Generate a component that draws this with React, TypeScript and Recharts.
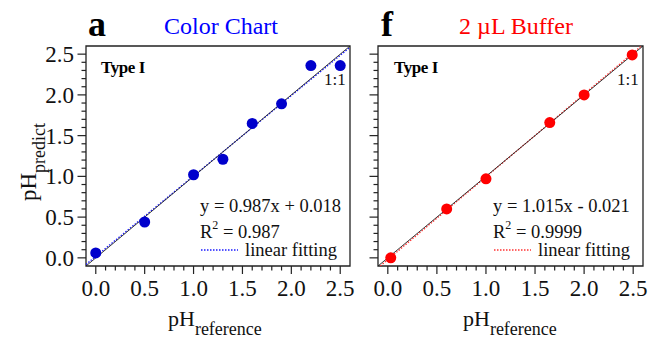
import React from 'react';
import { ScatterChart, Scatter, XAxis, YAxis, ReferenceLine, ReferenceArea } from 'recharts';

// panel a: colour chart
const colorRef = [0.0, 0.5, 1.0, 1.3, 1.6, 1.9, 2.2, 2.5];
const colorPred = [0.06, 0.44, 1.02, 1.21, 1.65, 1.89, 2.36, 2.36];
const colorFit = { slope: 0.987, intercept: 0.018 };

// panel f: 2 uL buffer
const bufferRef = [0.03, 0.6, 1.0, 1.65, 2.0, 2.49];
const bufferPred = [0.0, 0.6, 0.97, 1.66, 2.0, 2.49];
const bufferFit = { slope: 1.015, intercept: -0.021 };

const axisDomain = [-0.1, 2.6];
const majorTicks = [0, 0.5, 1, 1.5, 2, 2.5];
const minorStep = 0.1;

const FONT = "'Liberation Serif', 'Times New Roman', serif";

const allTicks: number[] = [];
for (let i = 0; i <= 25; i++) allTicks.push(Math.round(i * minorStep * 10) / 10);

const isMajor = (v: number) => majorTicks.some((m) => Math.abs(m - v) < 1e-6);

const XTick = (props: any) => {
  const { x, y, payload } = props;
  const major = isMajor(payload.value);
  return (
    <g>
      <line x1={x} y1={y} x2={x} y2={y + (major ? 8 : 4.5)} stroke="#222" strokeWidth={1.2} />
      {major && (
        <text x={x} y={y + 30} textAnchor="middle" fontSize={23} fontFamily={FONT} fill="#111">
          {payload.value.toFixed(1)}
        </text>
      )}
    </g>
  );
};

const YTick = (props: any) => {
  const { x, y, payload, showLabel } = props;
  const major = isMajor(payload.value);
  return (
    <g>
      <line x1={x} y1={y} x2={x - (major ? 8.5 : 4.5)} y2={y} stroke="#222" strokeWidth={1.2} />
      {major && showLabel && (
        <text x={x - 12} y={y + 8} textAnchor="end" fontSize={23} fontFamily={FONT} fill="#111">
          {payload.value.toFixed(1)}
        </text>
      )}
    </g>
  );
};

const Dot = (color: string) => (props: any) =>
  <circle cx={props.cx} cy={props.cy} r={5.5} fill={color} />;

type PanelProps = {
  xs: number[];
  ys: number[];
  fit: { slope: number; intercept: number };
  color: string;
  fitColor: string;
  left: number;
  width: number;
  marginRight: number;
  showYLabels: boolean;
};

const Panel = ({ xs, ys, fit, color, fitColor, left, width, marginRight, showYLabels }: PanelProps) => {
  const data = xs.map((x, i) => ({ x, y: ys[i] }));
  const [x0, x1] = axisDomain;
  return (
    <div style={{ position: 'absolute', left, top: 0 }}>
      <ScatterChart width={width} height={340} margin={{ top: 46, right: marginRight, bottom: 0, left: 0 }}>
        <XAxis
          type="number"
          dataKey="x"
          domain={axisDomain}
          ticks={allTicks}
          interval={0}
          height={74}
          axisLine={false}
          tickLine={false}
          tickSize={0}
          tickMargin={0}
          tick={(p: any) => <XTick {...p} />}
        />
        <YAxis
          type="number"
          dataKey="y"
          domain={axisDomain}
          ticks={allTicks}
          interval={0}
          width={86}
          axisLine={false}
          tickLine={false}
          tickSize={0}
          tickMargin={0}
          tick={(p: any) => <YTick {...p} showLabel={showYLabels} />}
        />
        <ReferenceArea x1={x0} x2={x1} y1={x0} y2={x1} fill="none" stroke="#222" strokeWidth={1.3} ifOverflow="visible" />
        {/* linear fit, drawn under the 1:1 line */}
        <ReferenceLine
          segment={[
            { x: x0, y: fit.slope * x0 + fit.intercept },
            { x: x1, y: fit.slope * x1 + fit.intercept },
          ]}
          stroke={fitColor}
          strokeWidth={1.3}
          strokeDasharray="1.5 1.5"
          ifOverflow="hidden"
        />
        <ReferenceLine
          segment={[{ x: x0, y: x0 }, { x: x1, y: x1 }]}
          stroke="#222"
          strokeWidth={0.9}
          ifOverflow="hidden"
        />
        <Scatter data={data} dataKey="y" fill={color} shape={Dot(color)} isAnimationActive={false} />
      </ScatterChart>
    </div>
  );
};

const PanelText = ({ dx, letter, title, titleColor, titleX, eq, r2, fitColor, lab1x }: any) => (
  <g fontFamily={FONT}>
    <text x={dx + 88} y={36} fontSize={36} fontWeight="bold" fill="#000">{letter}</text>
    <text x={titleX} y={34} fontSize={24} textAnchor="middle" fill={titleColor}>{title}</text>
    <text x={dx + 101} y={73} fontSize={17} fontWeight="bold" letterSpacing={-0.4} fill="#000">Type I</text>
    <text x={dx + 324} y={85} fontSize={17} fill="#111">1:1</text>
    <text x={dx + 200} y={211.5} fontSize={18.5} fill="#111">{eq}</text>
    <text x={dx + 200} y={238} fontSize={18.5} fill="#111">
      R<tspan dy={-9} fontSize={12}>2</tspan><tspan dy={9} fontSize={18.5}> = {r2}</tspan>
    </text>
    <line x1={dx + 201} y1={250} x2={dx + 238} y2={250} stroke={fitColor} strokeWidth={1.5} strokeDasharray="1.5 1.5" />
    <text x={dx + 245} y={256} fontSize={18.5} fill="#111">linear fitting</text>
    <text x={lab1x} y={326} fontSize={22} fill="#111">
      pH<tspan dy={9} fontSize={18}>reference</tspan>
    </text>
  </g>
);

export default function App() {
  return (
    <div style={{ position: 'absolute', left: 0, top: 0, width: 651, height: 340, background: '#fff', overflow: 'hidden' }}>
      <Panel xs={colorRef} ys={colorPred} fit={colorFit} color="#0000cc" fitColor="#1a1aff"
        left={0} width={360} marginRight={10} showYLabels={true} />
      <Panel xs={bufferRef} ys={bufferPred} fit={bufferFit} color="#ff0000" fitColor="#ff3333"
        left={292} width={359} marginRight={8} showYLabels={false} />
      <svg width={651} height={340} style={{ position: 'absolute', left: 0, top: 0, pointerEvents: 'none' }}>
        <PanelText dx={0} letter="a" title="Color Chart" titleColor="#0000ff" titleX={221}
          eq="y = 0.987x + 0.018" r2="0.987" fitColor="#1a1aff" lab1x={168} />
        <PanelText dx={293} letter="f" title="2 µL Buffer" titleColor="#ff0000" titleX={516}
          eq="y = 1.015x - 0.021" r2="0.9999" fitColor="#ff3333" lab1x={463} />
        <text transform="translate(36,162) rotate(-90)" textAnchor="middle" fontFamily={FONT} fontSize={23} fill="#111">
          pH<tspan dy={9} fontSize={18}>predict</tspan>
        </text>
      </svg>
    </div>
  );
}
